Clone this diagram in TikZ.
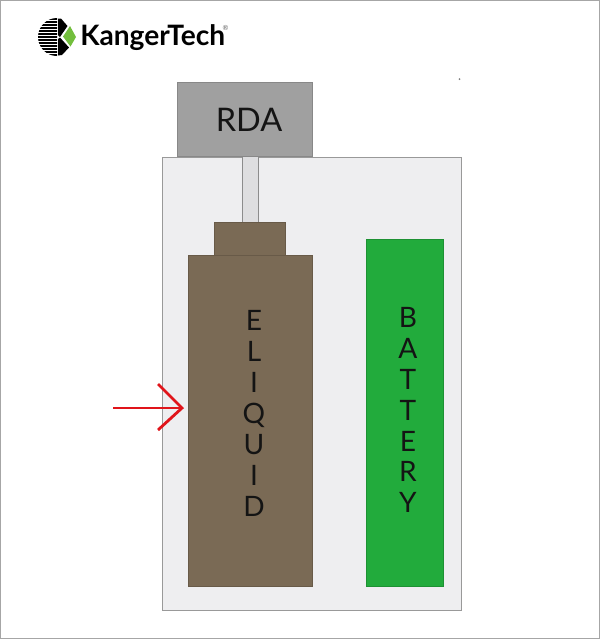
\documentclass[tikz,border=0pt]{standalone}
\usepackage{fontspec}
\setmainfont{Lato}
\usetikzlibrary{arrows.meta,positioning}
\definecolor{caseGray}{HTML}{EEEEF0}
\definecolor{rdaGray}{HTML}{A0A0A0}
\definecolor{stemGray}{HTML}{DEDEE0}
\definecolor{liquidBrown}{HTML}{7A6A55}
\definecolor{batteryGreen}{HTML}{22AB3C}
\definecolor{logoGreen}{HTML}{72BE3C}
\definecolor{arrowRed}{HTML}{E0141A}
\tikzset{
  part/.style={draw=#1!85!black,fill=#1,line width=0.4pt,inner sep=0pt,text=black!85},
  letters/.style={align=center,font=\fontsize{16}{17.6}\selectfont,text=black!92},
  redArrow/.style={draw=arrowRed,line width=1.6pt}
}

\begin{document}
\begin{tikzpicture}[x=0.02cm,y=-0.02cm]
  \useasboundingbox (0,0) rectangle (600,640);
  \draw[black!35,line width=0.8pt] (0.5,0.5) rectangle (599.5,638.5);

  % logo
  \fill[black] (57,18) arc[start angle=270,delta angle=-180,radius=19] -- cycle;
  \foreach \y in {20.5,23.5,...,54} {
    \draw[white,line width=0.7pt] (37,\y) -- (57.5,\y);
  }
  \fill[black] (58,18.5) -- (61,18.5) -- (67.5,26) -- (60,37) -- (58,35) -- cycle;
  \fill[logoGreen] (70,26) -- (76,37) -- (70.5,46.5) -- (63,36.5) -- cycle;
  \fill[black] (58,39) -- (60,37.5) -- (69,47.5) -- (62,55) -- (58,55.5) -- cycle;
  \node[font=\fontsize{16}{16}\selectfont\bfseries,inner sep=0pt,anchor=base west] (brand) at (80,45) {KangerTech};
  \node[font=\fontsize{4}{4}\selectfont,text=black!60,inner sep=0pt] (regmark) at (225.5,28) {®};

  % body
  \node[part=caseGray,draw=black!40,minimum width=299*0.02cm,minimum height=453*0.02cm] (case) at (311.5,383.5) {};
  \node[part=stemGray,draw=black!45,minimum width=16*0.02cm,minimum height=66*0.02cm] (stem) at (250,189) {};
  \node[part=rdaGray,minimum width=135*0.02cm,minimum height=74*0.02cm] (rda) at (244.5,119) {};
  \node[font=\fontsize{18.5}{20}\selectfont,text=black!92,inner sep=0pt] (rdaText) at (249,120) {RDA};
  \node[part=liquidBrown,minimum width=71*0.02cm,minimum height=33*0.02cm] (cap) at (249.5,238.5) {};
  \node[part=liquidBrown,minimum width=124*0.02cm,minimum height=331*0.02cm] (tank) at (250,420.5) {};
  \node[part=batteryGreen,minimum width=77*0.02cm,minimum height=347*0.02cm] (battery) at (404.5,412.5) {};
  \node[letters] (tankText) at (254,413.5) {E\\L\\I\\Q\\U\\I\\D};
  \node[letters] (batteryText) at (408,410) {B\\A\\T\\T\\E\\R\\Y};

  % arrow
  \coordinate (tip) at (182,408);
  \coordinate (tail) at (113,408);
  \coordinate (barbUp) at (158,384);
  \coordinate (barbDown) at (158,430);
  \draw[redArrow] (tail) -- (tip);
  \draw[redArrow] (barbUp) -- (tip) -- (barbDown);

  % speck
  \fill[black!50] (459.5,79) circle (1);
\end{tikzpicture}
\end{document}
